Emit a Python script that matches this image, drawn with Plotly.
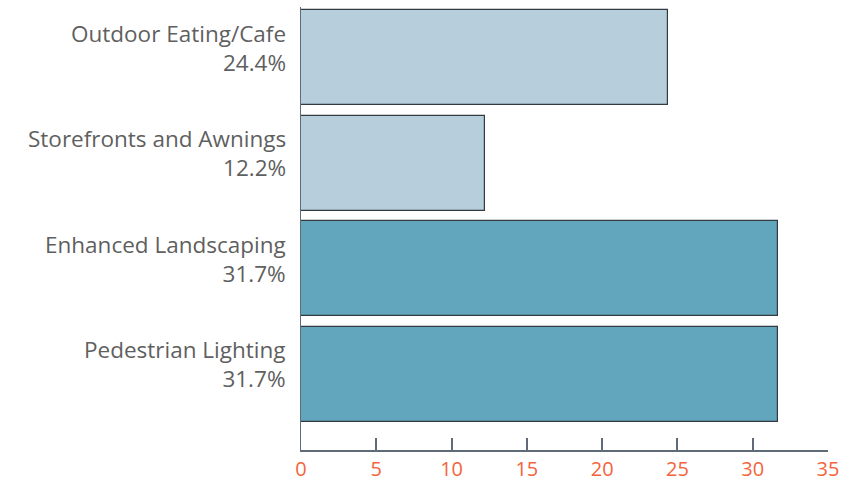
import plotly.graph_objects as go

categories = ["Outdoor Eating/Cafe", "Storefronts and Awnings", "Enhanced Landscaping", "Pedestrian Lighting"]
values = [24.4, 12.2, 31.7, 31.7]
bar_colors = ["#b7cfdc", "#b7cfdc", "#62a6bd", "#62a6bd"]
x_ticks = [0, 5, 10, 15, 20, 25, 30, 35]

labels = [f"{c}<br>{v:.1f}%" for c, v in zip(categories, values)]

fig = go.Figure(go.Bar(
    x=values,
    y=list(range(len(categories))),
    orientation="h",
    width=0.9,
    marker=dict(color=bar_colors, line=dict(color="#333a40", width=1.2)),
    hoverinfo="skip",
))

for i, lab in enumerate(labels):
    fig.add_annotation(
        x=0, xref="paper", xanchor="right", xshift=-13,
        y=i, yref="y", yanchor="middle", yshift=10,
        text=lab, showarrow=False, align="right",
        font=dict(family="'Open Sans', sans-serif", color="#5f5f5f", size=22.5),
    )

fig.update_layout(
    width=860, height=483,
    margin=dict(l=301, r=32, t=7, b=33, autoexpand=False),
    paper_bgcolor="white", plot_bgcolor="white",
    showlegend=False,
    font=dict(family="'Open Sans', sans-serif"),
    bargap=0,
)
fig.update_xaxes(
    range=[0, 35], tickvals=x_ticks, ticktext=[str(t) for t in x_ticks],
    showgrid=False, zeroline=False, automargin=False,
    showline=True, linecolor="#5f6b78", linewidth=2,
    ticks="inside", ticklen=12, tickwidth=2, tickcolor="#5f6b78",
    tickfont=dict(color="#f4643c", size=20),
)
fig.update_yaxes(
    range=[3.716, -0.483], tickvals=list(range(len(categories))), showticklabels=False,
    showgrid=False, zeroline=False, automargin=False,
    showline=True, linecolor="#5f6b78", linewidth=1,
    ticks="",
)

fig.write_html("out.html")
